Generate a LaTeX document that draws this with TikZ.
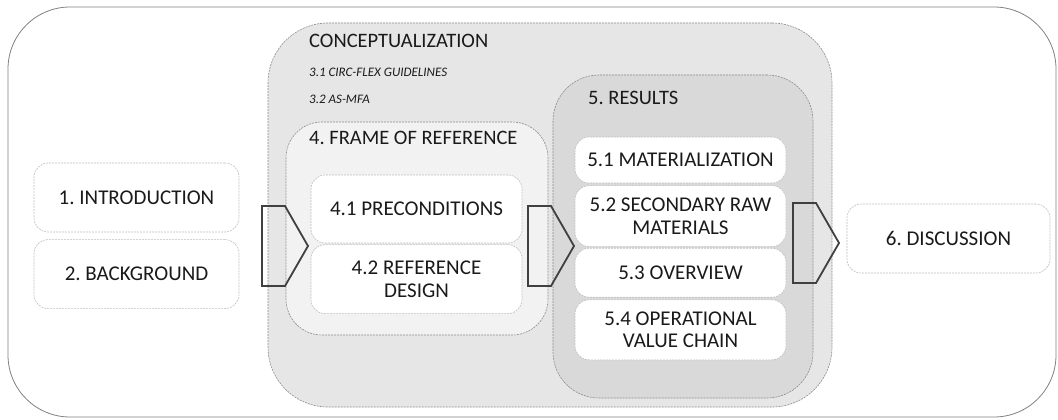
\documentclass[tikz,border=0pt]{standalone}
\usepackage{fontspec}
\setmainfont{Carlito}
\usepackage{xcolor}
\usetikzlibrary{positioning}
\frenchspacing

\definecolor{framegray}{HTML}{808080}
\definecolor{linegray}{HTML}{8C8C8C}
\definecolor{boxline}{HTML}{C0C0C0}
\definecolor{conceptfill}{HTML}{E6E6E6}
\definecolor{forfill}{HTML}{F2F2F2}
\definecolor{resfill}{HTML}{D9D9D9}
\definecolor{chevgray}{HTML}{404040}
\definecolor{textgray}{HTML}{1A1A1A}

\begin{document}
\begin{tikzpicture}[
    x=1pt, y=-1pt,
    node distance=1pt,
    area/.style={rectangle, draw=linegray, dashed, dash pattern=on 2pt off 1pt, line width=0.6pt},
    sect/.style={rectangle, draw=boxline, dashed, dash pattern=on 2pt off 1pt, line width=0.6pt, fill=white, rounded corners=14pt, align=center, inner sep=2pt, text=textgray, font=\fontsize{21}{22.5}\selectfont},
    title/.style={anchor=west, inner sep=0pt, text=textgray, font=\fontsize{20.5}{24}\selectfont},
    subtitle/.style={anchor=west, inner sep=0pt, text=textgray, font=\fontsize{13}{15}\selectfont\itshape},
    chev/.style={draw=chevgray, line width=1.8pt, line join=miter}
]
\useasboundingbox (0,0) rectangle (1058,420);

% outer frame
\node[draw=framegray, line width=0.8pt, rounded corners=62pt, minimum width=1048pt, minimum height=410pt, inner sep=0pt] (paper) at (532,212) {};

% conceptualization
\node[area, fill=conceptfill, rounded corners=60pt, minimum width=564pt, minimum height=384pt, inner sep=0pt] (concept) at (550,215) {};
\node[title] (concepttitle) at (309,41) {CONCEPTUALIZATION};
\node[subtitle] (guide) at (309,72) {3.1 CIRC-FLEX GUIDELINES};
\node[subtitle] (asmfa) at (309,99) {3.2 AS-MFA};

% frame of reference
\node[area, fill=forfill, rounded corners=36pt, minimum width=262pt, minimum height=213pt, inner sep=0pt] (forref) at (417,228.5) {};
\node[title] (fortitle) at (309,138) {4. FRAME OF REFERENCE};
\node[sect, minimum width=211pt, minimum height=68pt] (precond) at (416.5,209) {4.1 PRECONDITIONS};
\node[sect, minimum width=211pt, minimum height=69pt, below=1pt of precond] (refdesign) {4.2 REFERENCE\\DESIGN};

% results
\node[area, fill=resfill, rounded corners=46pt, minimum width=260pt, minimum height=323pt, inner sep=0pt] (results) at (683,236.5) {};
\node[title] (restitle) at (588,98) {5. RESULTS};
\node[sect, minimum width=211pt, minimum height=46pt] (matz) at (680.5,160) {5.1 MATERIALIZATION};
\node[sect, minimum width=211pt, minimum height=61pt, below=2pt of matz] (secraw) {5.2 SECONDARY RAW\\MATERIALS};
\node[sect, minimum width=211pt, minimum height=49pt, below=1pt of secraw] (overview) {5.3 OVERVIEW};
\node[sect, minimum width=211pt, minimum height=60pt, below=2pt of overview] (valchain) {5.4 OPERATIONAL\\VALUE CHAIN};

% outside chapters
\node[sect, minimum width=205pt, minimum height=69pt] (intro) at (136.5,197.5) {1. INTRODUCTION};
\node[sect, minimum width=205pt, minimum height=69pt, below=7pt of intro] (backgr) {2. BACKGROUND};
\node[sect, minimum width=203pt, minimum height=69pt] (disc) at (948.5,238.5) {6. DISCUSSION};

% chevrons
\foreach \cx/\cy in {262/206, 528/206, 793/203}
  \draw[chev] (\cx,\cy) -- ++(23,0) -- ++(23,40) -- ++(-23,40) -- ++(-23,0) -- cycle;
\end{tikzpicture}
\end{document}
